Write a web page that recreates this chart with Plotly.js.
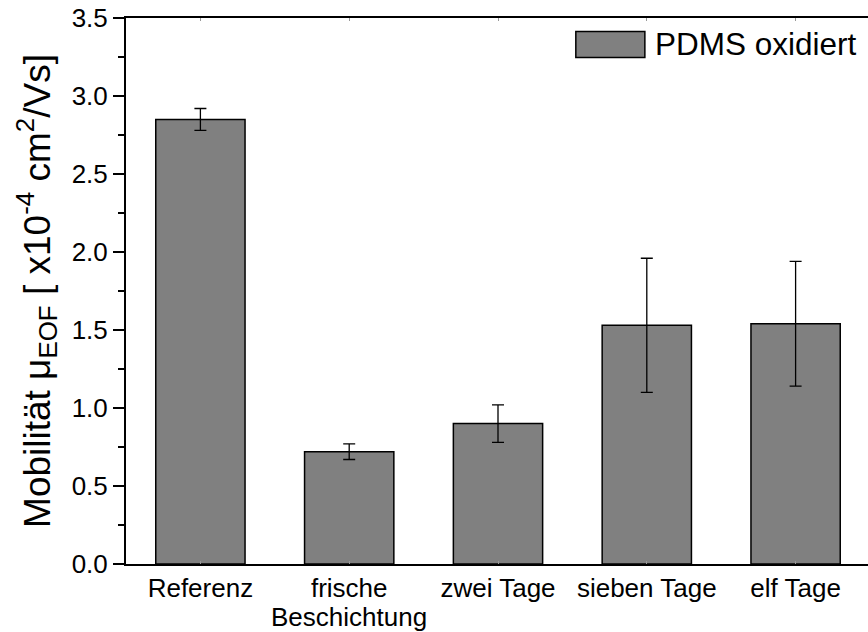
<!DOCTYPE html>
<html>
<head>
<meta charset="utf-8">
<script src="https://cdn.plot.ly/plotly-3.0.1.min.js"></script>
<style>
  html, body { margin: 0; padding: 0; overflow: hidden; background: #fff; }
  #chart { width: 870px; height: 632px; }
</style>
</head>
<body>
<div id="chart"></div>
<script>
// Electroosmotic mobility of oxidised PDMS over storage time
const categories = ['Referenz', 'frische<br>Beschichtung', 'zwei Tage', 'sieben Tage', 'elf Tage'];
const mobility = [2.85, 0.72, 0.90, 1.53, 1.54];
const mobilityErr = [0.07, 0.05, 0.12, 0.43, 0.40];
const seriesName = 'PDMS oxidiert';
const yTickVals = [0, 0.5, 1, 1.5, 2, 2.5, 3, 3.5];
const yTickText = ['0.0', '0.5', '1.0', '1.5', '2.0', '2.5', '3.0', '3.5'];

const FONT = 'Liberation Sans, Arial, sans-serif';
const positions = categories.map((_, i) => i);

// First line of each category goes on the axis; further lines are set
// beneath with tighter spacing than Plotly's default line height.
const firstLines = categories.map(c => c.split('<br>')[0]);
const extraLines = [];
categories.forEach((c, i) => {
  c.split('<br>').slice(1).forEach((line, k) => {
    extraLines.push({
      xref: 'x', yref: 'paper', x: i, y: -0.097 - k * 0.053,
      xanchor: 'center', yanchor: 'middle', showarrow: false,
      text: line, font: { size: 26, family: FONT, color: '#000' }
    });
  });
});

const trace = {
  type: 'bar',
  x: positions,
  y: mobility,
  name: seriesName,
  width: 0.6,
  marker: { color: '#808080', line: { color: '#000', width: 1.5 } },
  error_y: { type: 'data', array: mobilityErr, visible: true, color: '#000', thickness: 1.3, width: 6 },
  showlegend: false,
  hoverinfo: 'skip'
};

const layout = {
  width: 870,
  height: 632,
  margin: { l: 126, r: 0, t: 18, b: 68 },
  paper_bgcolor: '#fff',
  plot_bgcolor: '#fff',
  font: { family: FONT, color: '#000' },
  xaxis: {
    range: [-0.5, 4.5],
    tickmode: 'array',
    tickvals: positions,
    ticktext: firstLines,
    tickfont: { size: 26, family: FONT },
    ticks: 'inside',
    ticklen: 3,
    tickcolor: '#999',
    showline: true,
    linecolor: '#000',
    linewidth: 2,
    mirror: 'ticks',
    showgrid: false,
    zeroline: false,
    fixedrange: true
  },
  yaxis: {
    range: [0, 3.5],
    tickmode: 'array',
    tickvals: yTickVals,
    ticktext: yTickText,
    tickfont: { size: 26, family: FONT },
    ticks: 'outside',
    ticklen: 11,
    tickwidth: 2,
    tickcolor: '#000',
    minor: { dtick: 0.25, ticks: 'outside', ticklen: 6, tickwidth: 2, tickcolor: '#000', showgrid: false },
    showline: true,
    linecolor: '#000',
    linewidth: 2,
    showgrid: false,
    zeroline: false,
    title: {
      text: 'Mobilität μ<sub>EOF</sub> [ x10<sup>-4</sup> cm<sup>2</sup>/Vs]',
      font: { size: 37, family: FONT },
      standoff: 10
    },
    fixedrange: true
  },
  shapes: [
    {
      type: 'rect', xref: 'paper', yref: 'paper',
      x0: 0.6046, x1: 0.6974, y0: 0.9277, y1: 0.9753,
      fillcolor: '#808080', line: { color: '#000', width: 1.5 }
    }
  ],
  annotations: extraLines.concat([
    {
      xref: 'paper', yref: 'paper', x: 0.708, y: 0.9515,
      xanchor: 'left', yanchor: 'middle', showarrow: false,
      text: seriesName, font: { size: 31.5, family: FONT, color: '#000' }
    }
  ])
};

Plotly.newPlot('chart', [trace], layout, { displayModeBar: false, staticPlot: true });
</script>
</body>
</html>
